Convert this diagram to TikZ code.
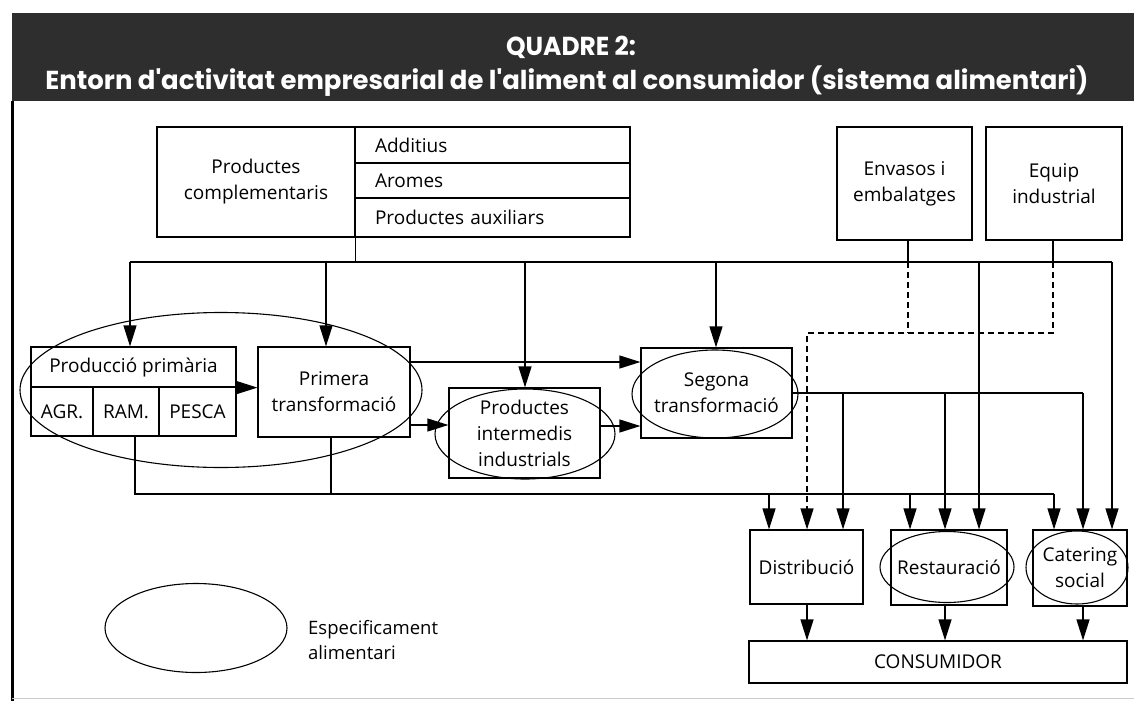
\documentclass[tikz,border=0pt]{standalone}
\usepackage{fontspec}
\setmainfont{Open Sans}
\newfontfamily\headfont{Poppins}
\usetikzlibrary{arrows.meta,shapes.geometric,calc}
\definecolor{headgray}{HTML}{2E2E2E}
\begin{document}
\begin{tikzpicture}[x=1pt,y=-1pt,
  box/.style={draw,line width=1.2pt,inner sep=0pt,align=center,font=\fontsize{19}{26}\selectfont},
  rowbox/.style={box,minimum width=275pt,text width=235pt,align=left},
  ell/.style={draw,ellipse,line width=1.1pt,inner sep=0pt},
  ln/.style={line width=1.2pt},
  arr/.style={ln,-{Triangle[length=21pt,width=13pt]}},
  dsh/.style={ln,dash pattern=on 6pt off 4pt},
  lbl/.style={font=\fontsize{18.5}{25}\selectfont,align=left,inner sep=0pt},
  ttl/.style={text=white,inner sep=0pt,font=\headfont\bfseries\fontsize{26}{26}\selectfont}
]
\useasboundingbox (0,0) rectangle (1134,701);
\fill[white] (0,0) rectangle (1134,701);

% header
\node[fill=headgray,minimum width=1122pt,minimum height=88pt,inner sep=0pt,anchor=north west] (hdr) at (12,13) {};
\node[ttl] (t1) at (571,47) {\resizebox{130pt}{\height}{QUADRE 2:}};
\node[ttl] (t2) at (567,81) {\resizebox{1043pt}{\height}{Entorn d'activitat empresarial de l'aliment al consumidor (sistema alimentari)}};
\draw[line width=3pt] (hdr.south west) -- ++(0,600);
\draw[gray!40,line width=0.8pt] (12,698) -- (1134,698);

% top boxes
\node[box,minimum width=198pt,minimum height=110pt] (pc) at (256,182) {Productes\\complementaris};
\node[rowbox,minimum height=36pt] (add) at (492.5,145) {Additius};
\node[rowbox,minimum height=35pt] (aro) at (492.5,180.5) {Aromes};
\node[rowbox,minimum height=39pt] (aux) at (492.5,217.5) {Productes auxiliars};
\node[box,minimum width=135pt,minimum height=113pt] (env) at (904.5,183.5) {Envasos i\\embalatges};
\node[box,minimum width=136pt,minimum height=113pt] (equ) at (1054,183.5) {Equip\\industrial};

% production
\node[box,minimum width=205pt,minimum height=40pt] (ppt) at (133.5,367) {Producció primària};
\node[box,minimum width=62pt,minimum height=49pt] (agr) at (62,411.5) {AGR.};
\node[box,minimum width=66pt,minimum height=49pt] (ram) at (126,411.5) {RAM.};
\node[box,minimum width=77pt,minimum height=49pt] (pes) at (197.5,411.5) {PESCA};
\node[box,minimum width=152pt,minimum height=90pt] (pt) at (334,392) {Primera\\transformació};
\node[ell,minimum width=402pt,minimum height=155pt] (ebig) at (221,390) {};

\node[box,minimum width=151pt,minimum height=90pt] (pi) at (524.5,433) {Productes\\intermedis\\industrials};
\node[ell,minimum width=180pt,minimum height=90pt] (epi) at (525,434) {};
\node[box,minimum width=151pt,minimum height=90pt] (sg) at (716.5,393) {Segona\\transformació};
\node[ell,minimum width=166pt,minimum height=88pt] (esg) at (715,394) {};

% lower boxes
\node[box,minimum width=113pt,minimum height=74pt] (dis) at (806.5,567) {Distribució};
\node[box,minimum width=116pt,minimum height=75pt] (res) at (949,567.5) {Restauració};
\node[ell,minimum width=134pt,minimum height=71pt] (eres) at (947,567) {};
\node[box,minimum width=94pt,minimum height=76pt] (cat) at (1080,568) {Catering\\social};
\node[ell,minimum width=102pt,minimum height=73pt] (ecat) at (1077,567.5) {};
\node[box,minimum width=378pt,minimum height=42pt] (con) at (938,662) {CONSUMIDOR};

% legend
\node[ell,minimum width=182pt,minimum height=89pt] (leg) at (196,628) {};
\node[lbl,anchor=west] (legt) at (308,640) {Especificament\\alimentari};

% top bus
\coordinate (t0) at (130,262);
\coordinate (t1) at (326,262);
\coordinate (t2) at (525,262);
\coordinate (t3) at (716,262);
\coordinate (t4) at (979,262);
\coordinate (t5) at (1112,262);
\draw[ln] (pc.south east) -- (pc.south east |- t0);
\draw[ln] (t0) -- (t5);
\draw[arr] (t0) -- (t0 |- ppt.north);
\draw[arr] (t1) -- (t1 |- pt.north);
\draw[arr] (t2) -- (t2 |- pi.north);
\draw[arr] (t3) -- (t3 |- sg.north);
\draw[arr] (t4) -- (t4 |- res.north);
\draw[arr] (t5) -- (t5 |- cat.north);

% envasos / equip
\coordinate (e1) at (908,262);
\coordinate (e2) at (908,333);
\coordinate (q1) at (1053,262);
\coordinate (q2) at (1053,333);
\coordinate (dd) at (807,333);
\draw[ln] (e1 |- env.south) -- (e1);
\draw[ln] (q1 |- equ.south) -- (q1);
\draw[dsh] (e1) -- (e2);
\draw[dsh,arr] (q1) -- (q2) -- (dd) -- (dd |- dis.north);

% middle arrows
\coordinate (p1) at ([yshift=30pt]pt.east);
\coordinate (p2) at ([yshift=-33pt]pt.east);
\coordinate (p3) at ([yshift=7pt]pi.east);
\draw[arr] (ppt.south east) -- (ppt.south east -| pt.west);
\draw[arr] (p1) -- (p1 -| sg.west);
\draw[arr] (p2) -- (p2 -| pi.west);
\draw[arr] (p3) -- (p3 -| sg.west);

% segona bus
\coordinate (s1) at (843,393);
\coordinate (s2) at (945,393);
\coordinate (c2) at (1083,393);
\draw[ln] (sg.east) -- (c2);
\draw[arr] (s1) -- (s1 |- dis.north);
\draw[arr] (s2) -- (s2 |- res.north);
\draw[arr] (c2) -- (c2 |- cat.north);

% lower bus
\coordinate (r0) at ([xshift=9pt]ram.south);
\coordinate (r1) at ([xshift=-3pt]pt.south);
\coordinate (d1) at (769,494);
\coordinate (d2) at (910,494);
\coordinate (c3) at (1054,494);
\draw[ln] (r0) |- (c3);
\draw[ln] (r1) -- (r1 |- c3);
\draw[arr] (d1) -- (d1 |- dis.north);
\draw[arr] (d2) -- (d2 |- res.north);
\draw[arr] (c3) -- (c3 |- cat.north);

% to consumer
\coordinate (u1) at ([xshift=0.5pt]dis.south);
\coordinate (u2) at ([xshift=-4pt]res.south);
\coordinate (u3) at ([xshift=3pt]cat.south);
\draw[arr] (u1) -- (u1 |- con.north);
\draw[arr] (u2) -- (u2 |- con.north);
\draw[arr] (u3) -- (u3 |- con.north);
\end{tikzpicture}
\end{document}
